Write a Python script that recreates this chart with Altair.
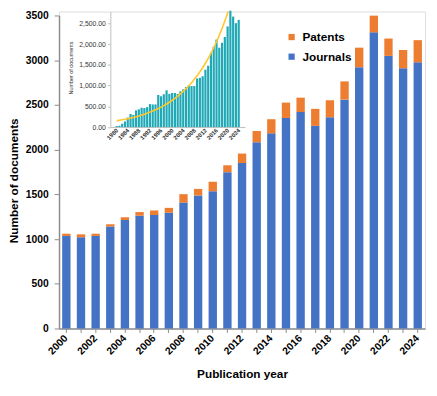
import altair as alt
import pandas as pd

# ---- main chart data ----
years = list(range(2000, 2025))
journals = [1035, 1020, 1035, 1140, 1214, 1261, 1269, 1294, 1408, 1488,
            1535, 1748, 1850, 2083, 2182, 2354, 2420, 2266, 2362, 2559,
            2921, 3311, 3048, 2910, 2976]
patents = [25, 33, 25, 27, 29, 41, 51, 55, 94, 73,
           106, 77, 106, 125, 158, 172, 161, 190, 190, 204,
           219, 187, 194, 204, 248]
series_names = ["Patents", "Journals"]
series_colors = ["#ED7D31", "#4472C4"]
y_ticks = [0, 500, 1000, 1500, 2000, 2500, 3000, 3500]

# ---- inset data ----
inset_years = list(range(1980, 2025))
inset_values = [24, 32, 79, 134, 229, 316, 292, 403, 427, 466,
                458, 482, 553, 545, 545, 774, 742, 790, 885, 798,
                821, 821, 798, 861, 908, 964, 1003, 988, 988, 1169,
                1185, 1224, 1382, 1477, 1793, 1935, 2109, 1912, 2030, 2172,
                2425, 2804, 2662, 2504, 2583]
inset_label_years = list(range(1980, 2025, 4))
inset_y_ticks = [0, 500, 1000, 1500, 2000, 2500]

rows = []
for y, j, p in zip(years, journals, patents):
    rows.append({"year": y, "series": "Journals", "count": j, "ord": 0})
    rows.append({"year": y, "series": "Patents", "count": p, "ord": 1})
df_main = pd.DataFrame(rows)
df_inset = pd.DataFrame({"year": inset_years, "value": inset_values})

FONT = "Liberation Sans"
PLOT_W = 373
PLOT_H = 323

main = alt.Chart(df_main).mark_bar().encode(
    x=alt.X(
        "year:O",
        sort="ascending",
        scale=alt.Scale(paddingInner=0.43, paddingOuter=0.215),
        axis=alt.Axis(
            orient="bottom",
            title="Publication year",
            titleFontSize=12, titleFontWeight="bold", titleColor="#000",
            titleBaseline="alphabetic", titleY=50,
            labelExpr="datum.value % 2 == 0 ? datum.label : ''",
            labelAngle=-45, labelAlign="right", labelBaseline="middle",
            labelFontSize=10.5, labelFontWeight="bold", labelColor="#000",
            labelPadding=4, tickSize=4, tickColor="#8c8c8c",
            domainColor="#8c8c8c", domainWidth=1.5, labelOverlap=False,
        ),
    ),
    y=alt.Y(
        "count:Q",
        stack="zero",
        scale=alt.Scale(domain=[0, 3500], range=[PLOT_H, 4], nice=False),
        axis=alt.Axis(
            orient="left",
            values=y_ticks,
            format="d",
            title="Number of documents",
            titleFontSize=12, titleFontWeight="bold", titleColor="#000",
            titleAngle=-90, titleBaseline="alphabetic", titleAlign="center",
            titleX=-42, titleY=172,
            labelFontSize=10.5, labelFontWeight="bold", labelColor="#000",
            labelPadding=6, tickSize=5, tickColor="#8c8c8c",
            domainColor="#8c8c8c", domainWidth=1.5, grid=False,
        ),
    ),
    color=alt.Color(
        "series:N",
        scale=alt.Scale(domain=series_names, range=series_colors),
        legend=alt.Legend(
            title=None, orient="none", legendX=231, legendY=20,
            symbolType="square", symbolSize=40, symbolStrokeWidth=0,
            symbolOpacity=1,
            labelFontSize=12, labelFontWeight="bold", labelColor="#000",
            labelOffset=5, rowPadding=8,
        ),
    ),
    order=alt.Order("ord:Q"),
)

inset_x_scale = alt.Scale(domain=[1979.5, 2024.5], range=[52.3, 189.5],
                          nice=False, zero=False)
inset_y_scale = alt.Scale(domain=[0, 2784], range=[117.7, 0], nice=False)

inset_x_axis = alt.Axis(
    orient="bottom", offset=-205.3, values=inset_label_years,
    format="d", labelAngle=-45, labelAlign="right",
    labelBaseline="middle", labelFontSize=6, labelFontWeight="bold",
    labelColor="#333", labelPadding=2, ticks=False,
    domainColor="#bfbfbf", domainWidth=1, labelOverlap=False,
    labelFlush=False, grid=False, title=None,
)
inset_y_axis = alt.Axis(
    orient="left", offset=-52.3, values=inset_y_ticks,
    format=",.2f", title="Number of documents",
    titleFontSize=5.5, titleFontWeight="normal", titleColor="#333",
    titleAngle=-90, titleBaseline="alphabetic", titleAlign="center",
    titleX=-39, titleY=57,
    labelFontSize=7, labelColor="#333", labelPadding=2,
    labelOverlap=False, labelFlush=False,
    tickSize=3, tickColor="#bfbfbf",
    domainColor="#bfbfbf", domainWidth=1, grid=False,
)

inset_bars = alt.Chart(df_inset).mark_bar(size=2.2, color="#1FA8B6").encode(
    x=alt.X("year:Q", scale=inset_x_scale, axis=inset_x_axis),
    y=alt.Y("value:Q", scale=inset_y_scale, axis=inset_y_axis),
)

# Exponential trendline (least squares fit of ln(value) on year, as Excel does)
inset_trend = (
    alt.Chart(df_inset)
    .transform_calculate(lv="log(datum.value)", t="datum.year - 1980")
    .transform_calculate(tlv="datum.t * datum.lv", tt="datum.t * datum.t")
    .transform_joinaggregate(mt="mean(t)", mlv="mean(lv)",
                             mtlv="mean(tlv)", mtt="mean(tt)")
    .transform_calculate(
        slope="(datum.mtlv - datum.mt * datum.mlv) / (datum.mtt - datum.mt * datum.mt)"
    )
    .transform_calculate(
        trend="exp(datum.mlv + datum.slope * (datum.t - datum.mt))"
    )
    .mark_line(color="#FFC72C", strokeWidth=1.6, clip=True,
               interpolate="monotone")
    .encode(
        x=alt.X("year:Q", scale=inset_x_scale, axis=inset_x_axis),
        y=alt.Y("trend:Q", scale=inset_y_scale, axis=inset_y_axis),
    )
)

inset = alt.layer(inset_bars, inset_trend)

chart = (
    alt.layer(main, inset)
    .resolve_scale(x="independent", y="independent")
    .properties(
        width=PLOT_W, height=PLOT_H,
        padding={"left": 52, "top": 0, "right": 4, "bottom": 57},
        autosize="none",
    )
    .configure_view(stroke=None)
    .configure(font=FONT)
)

chart.save("out.html", embed_options={"renderer": "svg", "actions": False})
